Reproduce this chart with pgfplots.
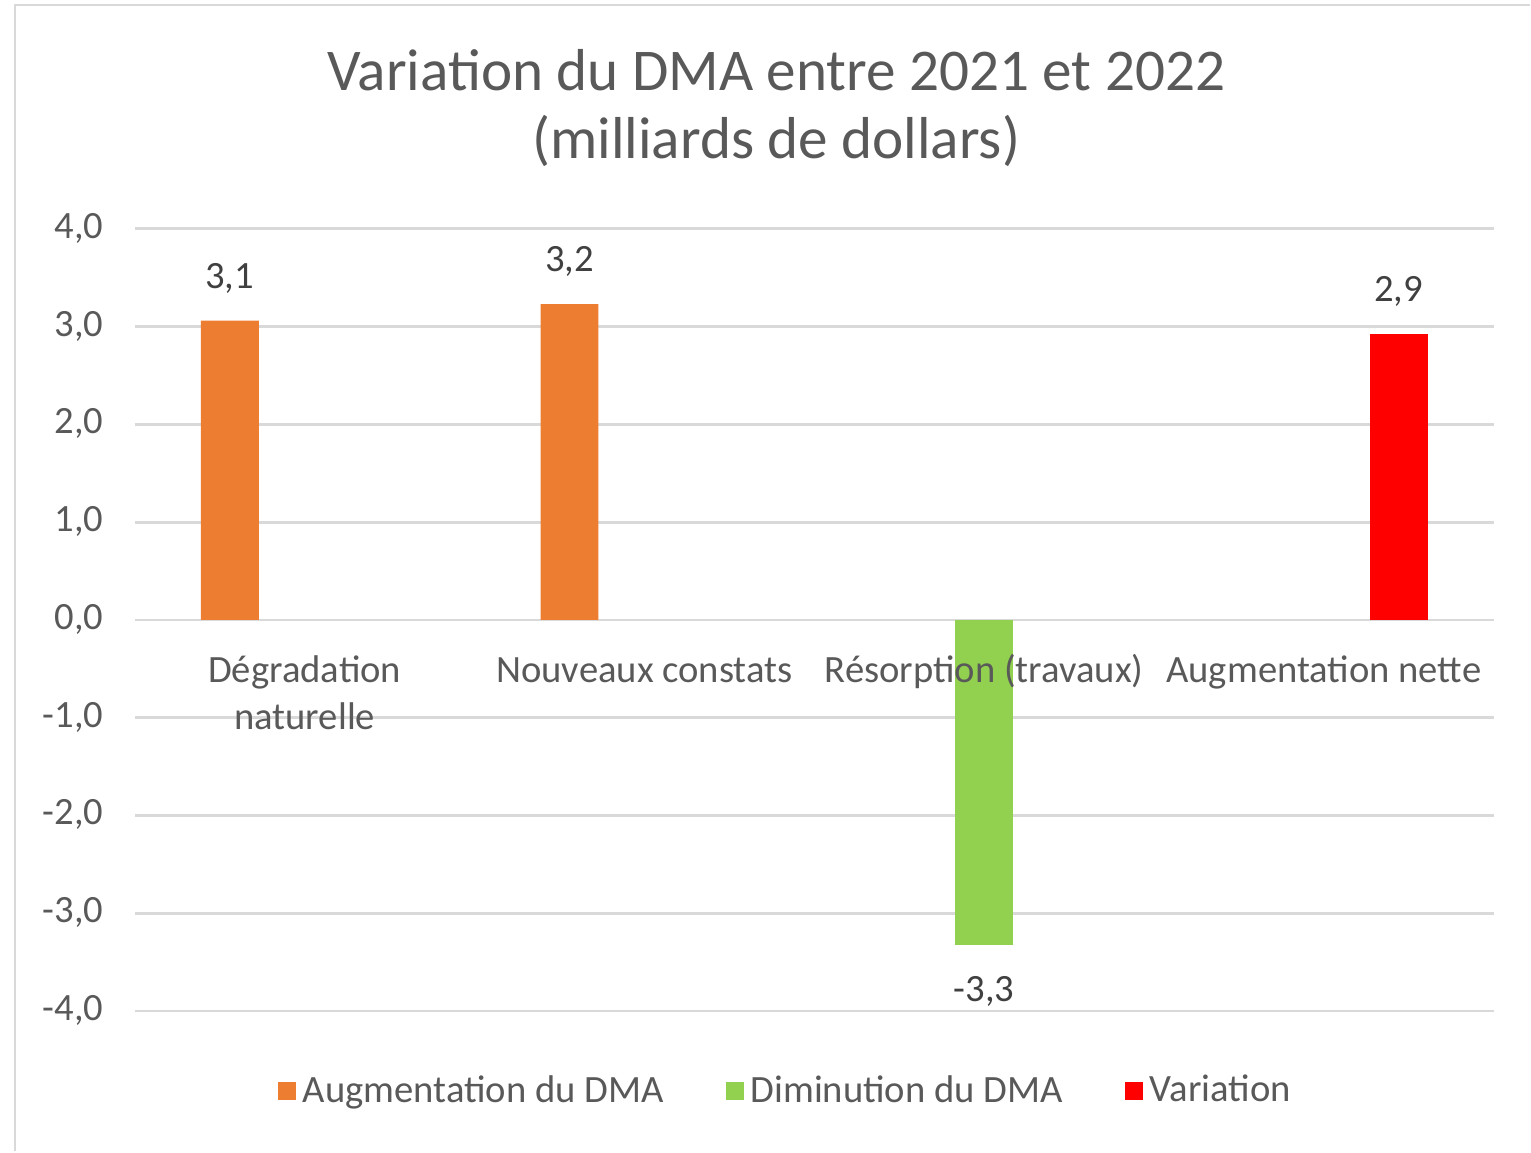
\documentclass[border=0pt]{standalone}
\usepackage{pgfplots}
\pgfplotsset{compat=1.18}
\usepackage{fontspec}
\setmainfont{Carlito}
\definecolor{txt}{HTML}{595959}
\definecolor{lbl}{HTML}{404040}
\definecolor{gridc}{HTML}{D9D9D9}
\definecolor{c1}{HTML}{ED7D31}
\definecolor{c2}{HTML}{92D050}
\definecolor{c3}{HTML}{FF0000}
\pgfplotsset{layers/mylayers/.define layer set={axis background,axis grid,axis ticks,axis lines,pre main,main,axis tick labels,axis descriptions,axis foreground}{
  grid style={/pgfplots/on layer=axis grid},
  tick style={/pgfplots/on layer=axis ticks},
  axis line style={/pgfplots/on layer=axis lines},
  ticklabel style={/pgfplots/on layer=axis tick labels},
  legend style={/pgfplots/on layer=axis descriptions},
}}
\begin{document}
\begin{tikzpicture}
\begin{axis}[
  set layers=mylayers,
  scale only axis,
  width=136mm, height=78.3mm,
  xmin=-0.5, xmax=3.5, ymin=-4, ymax=4,
  ybar=1.7mm, bar width=5.8mm,
  xtick={0,1,2,3},
  xticklabels={{Dégradation\\naturelle},{Nouveaux constats},{Résorption (travaux)},{Augmentation nette}},
  typeset ticklabels with strut,
  xticklabel style={align=center, font=\fontsize{11}{13.4}\selectfont, text=txt, anchor=north, yshift=39.15mm-0.2mm},
  ytick={-4,-3,-2,-1,0,1,2,3,4},
  yticklabel style={font=\fontsize{11}{13.4}\selectfont, text=txt, xshift=-1.9mm},
  /pgf/number format/.cd, fixed, fixed zerofill, precision=1, use comma, assume math mode=true,
  /pgfplots/.cd,
  ymajorgrids, grid style={gridc, line width=0.8pt},
  axis line style={draw=none}, tick style={draw=none},
  nodes near coords,
  every node near coord/.append style={font=\fontsize{11}{13}\selectfont, text=lbl, text height=2.4mm, text depth=0mm, inner ysep=3.2mm},
  clip=false,
  legend style={at={(0.4805,-0.1025)}, anchor=center, legend columns=3, draw=none,
    font=\fontsize{11}{13.4}\selectfont, text=txt,
    /tikz/every even column/.append style={column sep=5.5mm},
    nodes={inner xsep=0.7mm}},
  legend image code/.code={\fill[#1,draw=none] (0mm,-0.9mm) rectangle (1.8mm,0.9mm);},
]
\addplot[fill=c1, draw=none] coordinates {(0,3.06) (1,3.23)};
\addplot[fill=c2, draw=none] coordinates {(2,-3.32)};
\addplot[fill=c3, draw=none] coordinates {(3,2.92)};
\legend{Augmentation du DMA, Diminution du DMA, Variation}
\coordinate (O) at (rel axis cs:0,0);
\end{axis}
\path ([shift={(-13.5mm,-14mm)}]O) rectangle ([shift={(139.6mm,101.2mm)}]O);
\draw[gridc, line width=0.8pt] ([shift={(-12mm,-14mm)}]O) -- ([shift={(-12mm,100.7mm)}]O) -- ([shift={(139.6mm,100.7mm)}]O);
\node[align=center, text=txt, font=\fontsize{16.85}{19.35}\selectfont] at ([shift={(64.2mm,90.4mm)}]O) {Variation du DMA entre 2021 et 2022\\(milliards de dollars)};
\end{tikzpicture}
\end{document}
